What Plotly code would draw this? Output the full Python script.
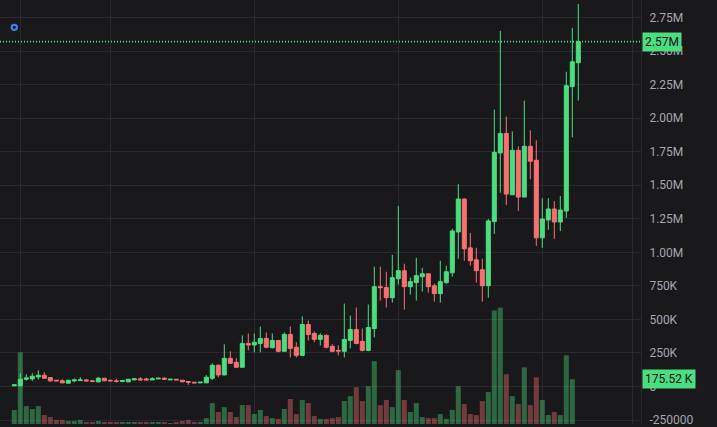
import plotly.graph_objects as go

# ---------------- data (prices in thousands, volume in thousands) ----------------
opens_k = [4.7, 4.7, 54, 56.6, 71.4, 83.8, 66.8, 46.7, 41.8, 24.5,
           41.8, 44, 49, 41.8, 34.4, 61.6, 46.7, 41.8, 37, 34.4,
           49, 56.6, 56.6, 49, 56.6, 61.6, 49, 54, 46.7, 37,
           32, 27, 27, 61.6, 158, 86, 210, 180, 143, 321,
           309, 321, 358, 289, 343, 262, 388, 292, 232, 462,
           395, 351, 381, 299, 269, 262, 343, 425, 336, 269,
           432, 744, 737, 662, 803, 863, 744, 774, 818, 840,
           751, 692, 774, 848, 1152, 1397, 1033, 944, 870, 751,
           1229, 1741, 1886, 1429, 1760, 1412, 1790, 1686, 1108, 1241,
           1323, 1226, 1308, 2235, 2413]
highs_k = [17, 98.7, 91, 98.7, 121, 106, 69, 46.7, 54, 49,
           59.4, 69, 56.6, 49, 71.4, 61.6, 46.7, 56.6, 49, 54,
           64, 69, 64, 69, 61.6, 69, 54, 54, 46.7, 37,
           32, 32, 84, 173, 165, 314, 262, 210, 381, 395,
           395, 447, 403, 395, 343, 403, 447, 329, 522, 492,
           410, 395, 388, 314, 306, 618, 529, 588, 432, 611,
           892, 892, 855, 981, 1345, 915, 811, 959, 885, 840,
           766, 937, 900, 1174, 1508, 1404, 1145, 1033, 952, 1248,
           2064, 2650, 2012, 1901, 1790, 2131, 1909, 1835, 1404, 1404,
           1382, 1419, 2346, 2673, 2851]
lows_k = [2.3, 4.0, 44.5, 42, 52, 59, 34.3, 41, 24.5, 22,
          32, 41.8, 37, 32, 32, 41, 41.8, 29.6, 32, 34,
          46.7, 46.7, 49, 49, 56, 54, 49, 49, 34, 12,
          27, 27, 27, 49, 69, 84, 168, 138, 143, 269,
          254, 254, 284, 284, 254, 262, 217, 217, 227, 343,
          329, 306, 284, 254, 232, 217, 284, 314, 262, 262,
          366, 640, 588, 625, 759, 573, 685, 640, 707, 700,
          633, 625, 766, 818, 952, 937, 900, 774, 633, 662,
          1137, 1444, 1352, 1427, 1308, 1412, 1545, 1048, 1033, 1167,
          1100, 1159, 1256, 1857, 2131]
closes_k = [12.1, 54, 64, 76.4, 83.8, 61.6, 41.8, 41.8, 26.9, 46.7,
            49, 49, 41.8, 37, 61.6, 41.8, 41.8, 37, 44, 54,
            56.6, 49, 49, 56.6, 61.6, 54, 54, 49, 34.4, 32,
            27, 32, 69, 158, 86, 210, 173, 143, 321, 309,
            329, 358, 292, 343, 262, 388, 284, 232, 462, 388,
            351, 381, 292, 262, 264, 351, 425, 321, 269, 440,
            744, 737, 662, 811, 863, 744, 781, 826, 840, 744,
            692, 781, 855, 1159, 1397, 1026, 937, 863, 751, 1234,
            1745, 1886, 1434, 1760, 1412, 1790, 1679, 1108, 1248, 1323,
            1226, 1315, 2242, 2420, 2570]
volumes_k = [55, 281, 70, 59, 70, 35, 27, 16, 16, 12,
             12, 16, 8, 8, 12, 8, 8, 8, 8, 8,
             8, 8, 8, 8, 8, 8, 4, 8, 12, 16,
             8, 8, 23, 82, 47, 66, 47, 27, 74, 74,
             39, 55, 31, 23, 20, 59, 98, 39, 94, 82,
             31, 20, 20, 23, 27, 90, 109, 144, 90, 148,
             246, 74, 94, 66, 211, 94, 47, 82, 27, 23,
             23, 39, 20, 55, 148, 78, 39, 35, 90, 125,
             445, 456, 195, 109, 78, 222, 74, 183, 94, 35,
             47, 35, 269, 175.52]

price_ticks = [-250000, 0, 250000, 500000, 750000, 1000000, 1250000, 1500000,
               1750000, 2000000, 2250000, 2500000, 2750000]
price_tick_labels = ["-250000", "0", "250K", "500K", "750K", "1.00M", "1.25M", "1.50M",
                     "1.75M", "2.00M", "2.25M", "2.50M", "2.75M"]
time_grid = [1, 16, 40, 64, 88, 103]

# ---------------- derived ----------------
opens = [v * 1000 for v in opens_k]
highs = [v * 1000 for v in highs_k]
lows = [v * 1000 for v in lows_k]
closes = [v * 1000 for v in closes_k]
volumes = [v * 1000 for v in volumes_k]
idx = list(range(len(closes)))
vidx = list(range(len(volumes)))

BG = "#19191c"
GRID = "#2a2a2e"
UP = "#4ade80"
DOWN = "#f87171"
UP_VOL = "rgba(74,222,128,0.4)"
DOWN_VOL = "rgba(248,113,113,0.4)"
TEXT = "#a6a6ad"
FONT = "Roboto"

vol_colors = [UP_VOL if closes[i] >= opens[i] else DOWN_VOL for i in vidx]

fig = go.Figure()
fig.add_trace(go.Bar(
    x=vidx, y=volumes, marker=dict(color=vol_colors, line=dict(width=0)),
    width=0.83, yaxis="y2", hoverinfo="skip", showlegend=False,
))
fig.add_trace(go.Candlestick(
    x=idx, open=opens, high=highs, low=lows, close=closes,
    increasing=dict(line=dict(color=UP, width=1), fillcolor=UP),
    decreasing=dict(line=dict(color=DOWN, width=1), fillcolor=DOWN),
    whiskerwidth=0, hoverinfo="skip", showlegend=False,
))

W, H = 717, 427
plot_w = 641
# x scale: candle 0 at 14.3px, 6px per candle
x0 = -14.3 / 6
x1 = (plot_w - 14.3) / 6
# price scale: zero at y=388.3px, 250K per 33.7px
ppx = 250000 / 33.7
p_top = 388.3 * ppx
p_bot = (388.3 - H) * ppx
# volume scale: zero at y=426px
vpx = 175520 / 45
v_top = 426 * vpx
v_bot = (426 - H) * vpx

last_close = closes[-1]
last_vol = volumes[-1]

fig.update_layout(
    width=W, height=H,
    margin=dict(l=0, r=W - plot_w, t=0, b=0),
    paper_bgcolor=BG, plot_bgcolor=BG,
    font=dict(family=FONT, size=12, color=TEXT),
    showlegend=False,
    boxgap=0.33, boxgroupgap=0,
    xaxis=dict(range=[x0, x1], showticklabels=False, tickvals=time_grid,
               showgrid=True, gridcolor=GRID, gridwidth=1, zeroline=False,
               rangeslider=dict(visible=False), fixedrange=True),
    yaxis=dict(range=[p_bot, p_top], side="right", tickvals=price_ticks,
               ticktext=price_tick_labels, showgrid=True, gridcolor=GRID,
               zeroline=False, showline=True, linecolor=GRID, linewidth=1,
               ticks="", ticklabelstandoff=5, ticklabeloverflow="allow",
               tickfont=dict(family=FONT, size=12, color=TEXT)),
    yaxis2=dict(range=[v_bot, v_top], overlaying="y", side="right", visible=False,
                showgrid=False, zeroline=False),
    shapes=[
        dict(type="line", xref="paper", x0=0, x1=1, yref="y", y0=last_close, y1=last_close,
             line=dict(color=UP, width=1.6, dash="1px,2px"), layer="above"),
        dict(type="circle", xref="x", x0=-0.45, x1=0.45, yref="paper",
             y0=1 - 30.2 / H, y1=1 - 24.8 / H, line=dict(color="#3b82f6", width=2)),
    ],
    annotations=[
        dict(xref="paper", x=1, xanchor="left", yref="y", y=last_close, yanchor="middle",
             text=f"{last_close / 1e6:.2f}M", showarrow=False, bgcolor=UP,
             font=dict(family=FONT, size=12, color="#101012"), borderpad=2, xshift=1),
        dict(xref="paper", x=1, xanchor="left", yref="y2", y=last_vol, yanchor="middle",
             text=f"{last_vol / 1000:.2f} K", showarrow=False, bgcolor=UP,
             font=dict(family=FONT, size=12, color="#101012"), borderpad=2, xshift=1),
    ],
)

fig.write_html("out.html", config={"displayModeBar": False, "staticPlot": True})
